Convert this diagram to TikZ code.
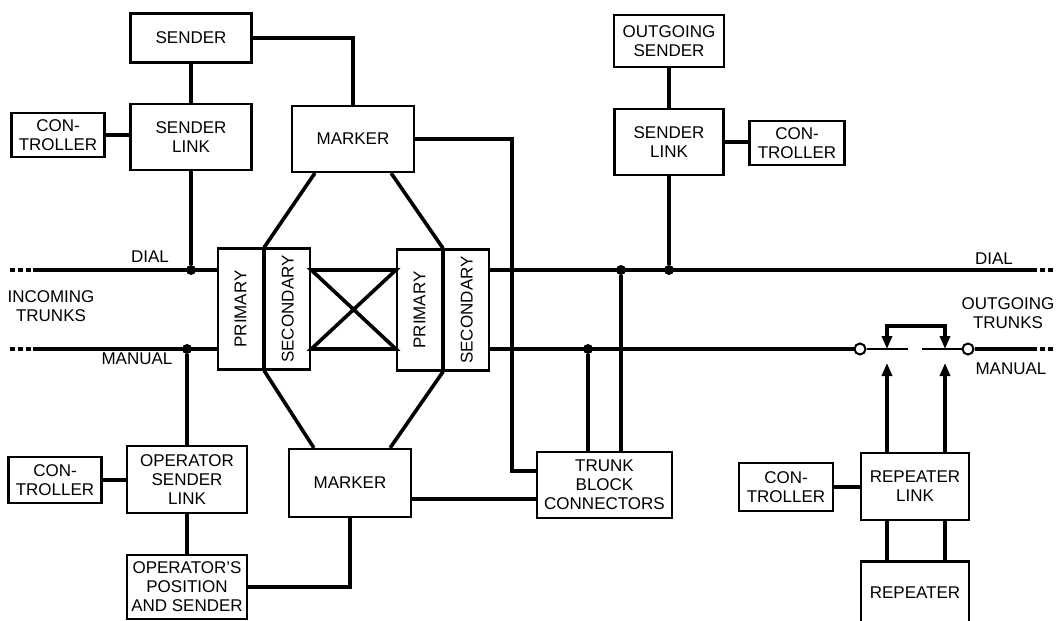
\documentclass[tikz,border=0pt]{standalone}
\usepackage{fontspec}
\setmainfont{Liberation Sans}
\usetikzlibrary{arrows.meta,positioning,calc}

\begin{document}
\begin{tikzpicture}[x=0.5pt,y=-0.5pt,
  blk/.style={rectangle,draw,line width=1.1pt,align=center,inner sep=0pt,font=\fontsize{8.5}{9.5}\selectfont},
  vblk/.style={blk,minimum width=22.5pt,minimum height=60.5pt},
  lbl/.style={align=center,inner sep=0pt,font=\fontsize{8.5}{9.5}\selectfont},
  wire/.style={line width=1.8pt},
  thinwire/.style={line width=1pt},
  stub/.style={line width=1.8pt,dash pattern=on 2.5pt off 1.5pt},
  dot/.style={circle,fill,inner sep=0pt,minimum size=5pt},
  ring/.style={circle,draw,fill=white,line width=1pt,inner sep=0pt,minimum size=5.5pt},
  arr/.style={line width=1.8pt,-{Triangle[length=6.5pt,width=5pt]}}
]
\clip (0,0) rectangle (1057,621);

\node[blk,minimum width=60.5pt,minimum height=24.5pt] (sender) at (191,38) {SENDER};
\node[blk,minimum width=60.5pt,minimum height=33pt] (slinkA) at (191,137) {SENDER\\LINK};
\node[blk,minimum width=46.5pt,minimum height=22pt] (ctrlA) at (58,135) {CON-\\TROLLER};
\node[blk,minimum width=61pt,minimum height=33pt] (markerA) at (353,139) {MARKER};
\node[blk,minimum width=55pt,minimum height=26pt] (osender) at (669,41) {OUTGOING\\SENDER};
\node[blk,minimum width=54.5pt,minimum height=33pt] (slinkB) at (669,142) {SENDER\\LINK};
\node[blk,minimum width=47.5pt,minimum height=22pt] (ctrlB) at (797,143) {CON-\\TROLLER};

\node[vblk] (priA) at (240.5,309) {\rotatebox{90}{PRIMARY}};
\node[vblk,right=0pt of priA] (secA) {\rotatebox{90}{SECONDARY}};
\node[vblk] (priB) at (419.5,310) {\rotatebox{90}{PRIMARY}};
\node[vblk,right=0pt of priB] (secB) {\rotatebox{90}{SECONDARY}};

\node[blk,minimum width=61pt,minimum height=34pt] (markerB) at (350,483) {MARKER};
\node[blk,minimum width=67.5pt,minimum height=33pt] (tbc) at (604.5,485) {TRUNK\\BLOCK\\CONNECTORS};
\node[blk,minimum width=60pt,minimum height=33.5pt] (osl) at (187,479.5) {OPERATOR\\SENDER\\LINK};
\node[blk,minimum width=46.5pt,minimum height=23pt] (ctrlC) at (55,480) {CON-\\TROLLER};
\node[blk,minimum width=60pt,minimum height=32pt] (ops) at (187,587) {OPERATOR’S\\POSITION\\AND SENDER};
\node[blk,minimum width=47pt,minimum height=24pt] (ctrlD) at (786,487) {CON-\\TROLLER};
\node[blk,minimum width=54pt,minimum height=33.5pt] (rlink) at (915,486.5) {REPEATER\\LINK};
\node[blk,minimum width=54pt,minimum height=31.5pt] (rep) at (915,593) {REPEATER};

\node[lbl] (dialLbl) at (150,257) {DIAL};
\node[lbl] (manLbl) at (137,359) {MANUAL};
\node[lbl] (incLbl) at (51,306) {INCOMING\\TRUNKS};
\node[lbl] (dialLblR) at (994,259) {DIAL};
\node[lbl] (outLbl) at (1008,313) {OUTGOING\\TRUNKS};
\node[lbl] (manLblR) at (1011,369) {MANUAL};

\coordinate (dialL0) at (10,270);
\coordinate (dialL) at (33,270);
\coordinate (manL0) at (10,349);
\coordinate (manL) at (33,349);
\coordinate (dialR) at (1032,270);
\coordinate (dialR0) at (1055,270);
\coordinate (manR) at (1032,349);
\coordinate (manR0) at (1055,349);

\draw[stub] (dialL0) -- (dialL);
\draw[stub] (manL0) -- (manL);
\draw[wire] (dialL) -- (dialL -| priA.west);
\draw[wire] (manL) -- (manL -| priA.west);
\node[dot] (jDialA) at (slinkA |- dialL) {};
\node[dot] (jManA) at (osl |- manL) {};
\draw[wire] (sender) -- (slinkA);
\draw[wire] (slinkA) -- (jDialA);
\draw[wire] (ctrlA.east) -- (ctrlA.east -| slinkA.west);
\draw[wire] (osl) -- (jManA);
\draw[wire] (osl) -- (ops);
\draw[wire] (ctrlC.east) -- (ctrlC.east -| osl.west);
\draw[wire] (sender.east) -| (markerA.north);
\draw[wire] (ops.east) -| (markerB.south);

\draw[wire] ([xshift=12pt]markerA.south west) -- (secA.north west);
\draw[wire] ([xshift=-12pt]markerA.south east) -- (secB.north west);
\draw[wire] (secA.south west) -- ([xshift=13pt]markerB.north west);
\draw[wire] (secB.south west) -- ([xshift=-11pt]markerB.north east);
\draw[wire] (secA.east |- dialL) -- (priB.west |- dialL) -- (secA.east |- manL) -- (priB.west |- manL) -- cycle;

\draw[wire] (secB.east |- dialL) -- (dialR);
\draw[stub] (dialR) -- (dialR0);
\coordinate (tbcA) at ([xshift=-8.25pt]tbc.north);
\coordinate (tbcB) at ([xshift=8.25pt]tbc.north);
\node[dot] (jManB) at (tbcA |- manL) {};
\node[dot] (jDialB) at (tbcB |- dialL) {};
\node[dot] (jDialC) at (slinkB |- dialL) {};
\draw[wire] (tbcA) -- (jManB);
\draw[wire] (tbcB) -- (jDialB);
\draw[wire] (osender) -- (slinkB);
\draw[wire] (slinkB) -- (jDialC);
\draw[wire] (slinkB.east) -- (slinkB.east -| ctrlB.west);

\coordinate (bendT) at (512,471);
\draw[wire] (markerA.east) -| (bendT) -- (bendT -| tbc.west);
\coordinate (mbOut) at ([yshift=-8pt]markerB.east);
\draw[wire] (mbOut) -- (mbOut -| tbc.west);

\node[ring] (swA) at (860,349) {};
\node[ring] (swB) at (968,349) {};
\coordinate (cA) at (908,349);
\coordinate (cB) at (922,349);
\draw[wire] (secB.east |- manL) -- (swA);
\draw[thinwire] (swA) -- (cA);
\draw[thinwire] (cB) -- (swB);
\draw[wire] (swB) -- (manR);
\draw[stub] (manR) -- (manR0);

\coordinate (tapA) at (887,349);
\coordinate (tapB) at (945,349);
\draw[line width=1.8pt,{Triangle[length=6.5pt,width=5pt]}-{Triangle[length=6.5pt,width=5pt]}] (tapA) -- ++(0,-23) -| (tapB);
\coordinate (tipA) at ([yshift=-7pt]tapA);
\coordinate (tipB) at ([yshift=-7pt]tapB);
\draw[arr] (rlink.north -| tapA) -- (tipA);
\draw[arr] (rlink.north -| tapB) -- (tipB);
\draw[wire] (rlink.south -| tapA) -- (rep.north -| tapA);
\draw[wire] (rlink.south -| tapB) -- (rep.north -| tapB);
\draw[wire] (ctrlD.east) -- (ctrlD.east -| rlink.west);
\end{tikzpicture}
\end{document}
